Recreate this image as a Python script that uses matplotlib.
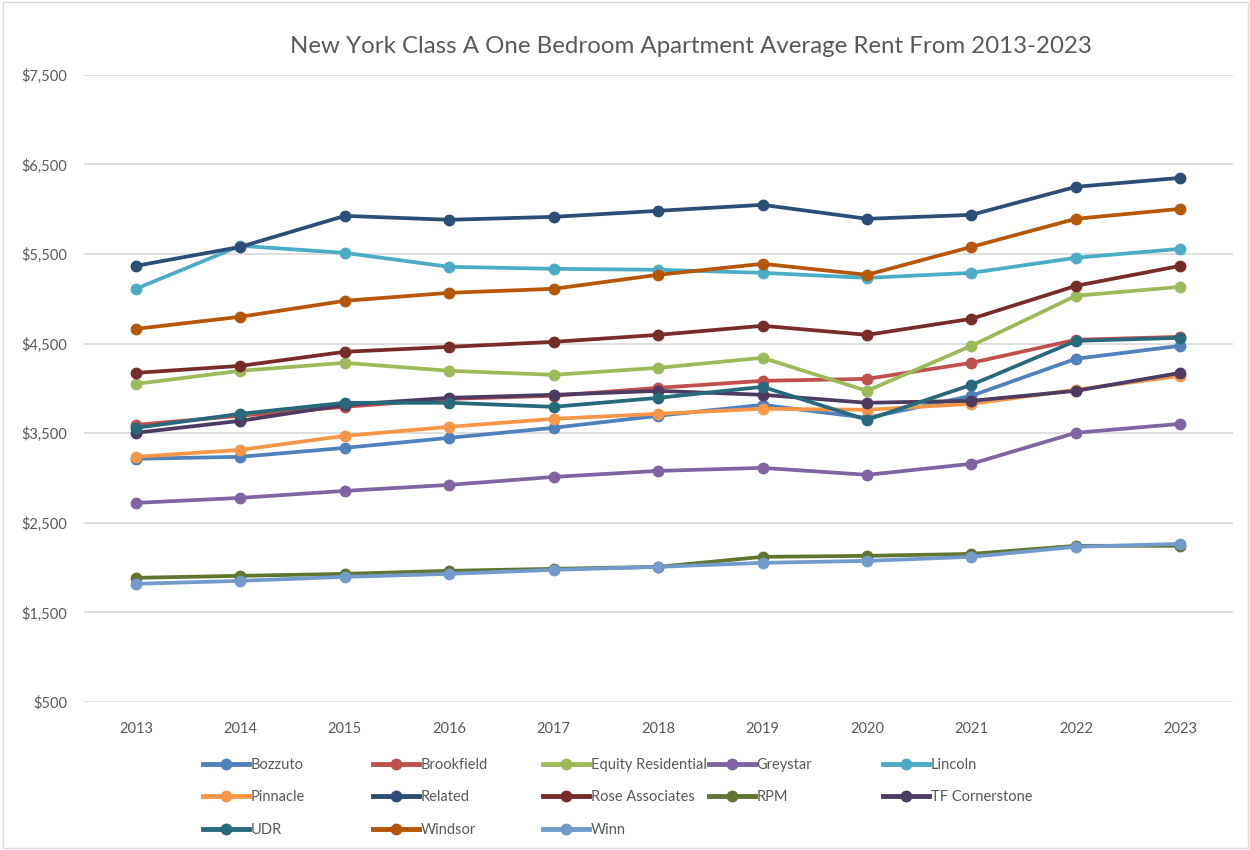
import numpy as np
import matplotlib
matplotlib.use("Agg")
import matplotlib.pyplot as plt
from matplotlib.lines import Line2D
from matplotlib.ticker import FuncFormatter

plt.rcParams["font.family"] = ["Lato", "DejaVu Sans"]

years = [2013, 2014, 2015, 2016, 2017, 2018, 2019, 2020, 2021, 2022, 2023]

bozzuto = [3215, 3237, 3337, 3449, 3561, 3695, 3817, 3672, 3918, 4331, 4476]
brookfield = [3594, 3695, 3795, 3884, 3918, 4007, 4085, 4107, 4286, 4543, 4576]
equity = [4051, 4197, 4286, 4197, 4152, 4230, 4342, 3973, 4476, 5034, 5134]
greystar = [2723, 2779, 2857, 2924, 3013, 3080, 3114, 3036, 3159, 3505, 3605]
lincoln = [5112, 5592, 5513, 5357, 5335, 5324, 5290, 5234, 5290, 5458, 5558]
pinnacle = [3237, 3315, 3471, 3572, 3661, 3717, 3773, 3762, 3829, 3985, 4141]
related = [5368, 5580, 5926, 5882, 5915, 5982, 6049, 5893, 5937, 6250, 6350]
rose = [4174, 4252, 4409, 4464, 4520, 4598, 4699, 4598, 4777, 5145, 5368]
rpm = [1887, 1909, 1931, 1965, 1987, 2009, 2121, 2132, 2154, 2244, 2244]
tf_cornerstone = [3505, 3639, 3817, 3895, 3929, 3973, 3929, 3840, 3862, 3973, 4174]
udr = [3560, 3717, 3840, 3840, 3795, 3895, 4018, 3650, 4040, 4531, 4565]
windsor = [4665, 4800, 4978, 5067, 5112, 5268, 5391, 5268, 5580, 5893, 6004]
winn = [1820, 1853, 1898, 1931, 1976, 2009, 2054, 2076, 2121, 2233, 2266]

names = ["Bozzuto", "Brookfield", "Equity Residential", "Greystar", "Lincoln",
         "Pinnacle", "Related", "Rose Associates", "RPM", "TF Cornerstone",
         "UDR", "Windsor", "Winn"]
series = [bozzuto, brookfield, equity, greystar, lincoln, pinnacle, related,
          rose, rpm, tf_cornerstone, udr, windsor, winn]
colors = ["#4F81BD", "#C0504D", "#9BBB59", "#8064A2", "#4BACC6", "#F79646",
          "#2C4D75", "#772C2A", "#5F7530", "#4D3B62", "#276A7C", "#B65708",
          "#729ACA"]

fig = plt.figure(figsize=(12.5, 8.5), dpi=100)
ax = fig.add_axes([0.067, 0.174, 0.919, 0.738])

x = np.arange(len(years))
for name, vals, col in zip(names, series, colors):
    ax.plot(x, vals, color=col, lw=2.7, marker="o", ms=7.5, label=name,
            solid_capstyle="round")

ax.set_xlim(-0.5, len(years) - 0.5)
ax.set_ylim(500, 7500)
ax.set_yticks(np.arange(500, 7501, 1000))
ax.yaxis.set_major_formatter(FuncFormatter(lambda v, p: f"${v:,.0f}"))
ax.set_xticks(x)
ax.set_xticklabels([str(y) for y in years])
ax.grid(axis="y", color="#D9D9D9", lw=1.2)
ax.set_axisbelow(True)
for s in ax.spines.values():
    s.set_visible(False)
ax.tick_params(length=0, labelsize=10.5, colors="#595959")
ax.tick_params(axis="x", pad=14)
ax.tick_params(axis="y", pad=12)

fig.text(0.553, 0.945, "New York Class A One Bedroom Apartment Average Rent From 2013-2023",
         ha="center", va="center", fontsize=17.3, color="#595959")

# legend laid out row by row in five equal columns, like the spreadsheet
col_x = [0.162, 0.298, 0.434, 0.567, 0.706]
ncol = 5
for c in range(ncol):
    idx = list(range(c, len(names), ncol))
    handles = [Line2D([], [], color=colors[i], lw=3.5, marker="o", ms=7.5) for i in idx]
    labels = [names[i] for i in idx]
    fig.legend(handles, labels, loc="upper left", bbox_to_anchor=(col_x[c], 0.108),
               frameon=False, fontsize=10.5, handlelength=3.2, handletextpad=0.1,
               labelspacing=1.25, borderaxespad=0, borderpad=0, labelcolor="#595959")

fig.patches.append(plt.Rectangle((0.002, 0.002), 0.996, 0.996, transform=fig.transFigure,
                                 fill=False, edgecolor="#D9D9D9", lw=1))

fig.savefig("out.png", dpi=100, facecolor="white")
